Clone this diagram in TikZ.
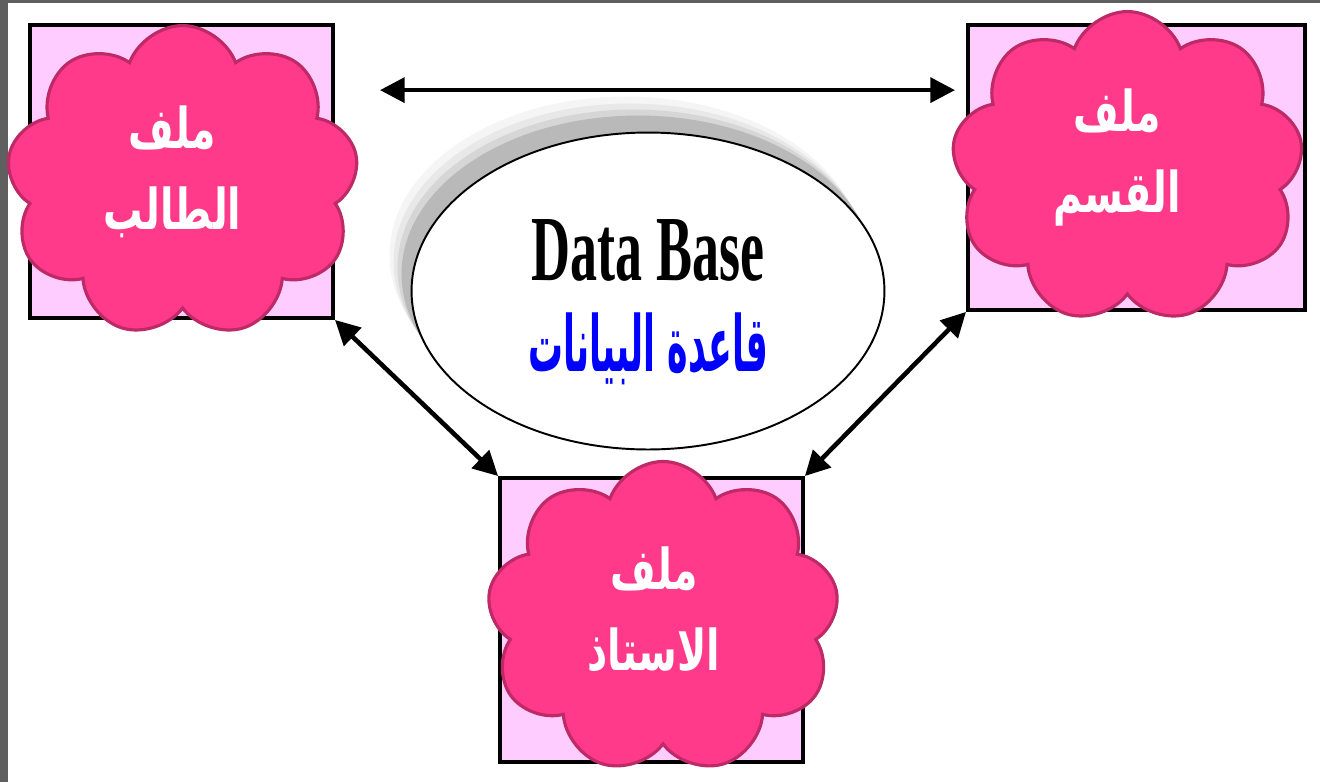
\documentclass[tikz,border=0pt]{standalone}
\usepackage{fontspec}
\setmainfont{Liberation Serif}
\newfontfamily\arabicfont[Script=Arabic,FakeStretch=0.7]{DejaVu Sans}
\newfontfamily\arabicnarrow[Script=Arabic,FakeStretch=0.45]{DejaVu Sans}
\newfontfamily\narrowserif[FakeStretch=0.58]{Liberation Serif}
\TeXXeTstate=1
\usetikzlibrary{shapes,arrows.meta,positioning,shadows}
\newcommand{\artxt}[1]{\beginR #1\endR}
\newcommand{\cloudfont}{\arabicfont\bfseries\fontsize{32}{46}\selectfont\lineskiplimit=-20cm\relax}

\definecolor{boxpink}{HTML}{FFCCFF}
\definecolor{cloudpink}{HTML}{FF3A8A}
\definecolor{cloudedge}{HTML}{BE2A66}
\definecolor{framegray}{HTML}{5F5F5F}

\begin{document}
\begin{tikzpicture}[x=0.02cm, y=-0.02cm]

\tikzset{
	filebox/.style={
		draw=black,
		fill=boxpink,
		rectangle,
		line width=2.2pt,
		minimum width=6.06cm,
		minimum height=5.86cm},
	filecloud/.style={
		draw=cloudedge,
		fill=cloudpink,
		cloud,
		cloud puffs=9,
		cloud puff arc=140,
		line width=1.8pt,
		minimum width=7.04cm,
		minimum height=6.24cm},
	filetext/.style={
		text=white,
		align=center,
		font=\cloudfont},
	dbase/.style={
		draw=black,
		fill=white,
		ellipse,
		line width=1.1pt,
		minimum width=9.46cm,
		minimum height=6.34cm,
		drop shadow={shadow xshift=-0.44cm, shadow yshift=0.72cm, fill=gray!8, opacity=1},
		drop shadow={shadow xshift=-0.36cm, shadow yshift=0.58cm, fill=gray!18, opacity=1},
		drop shadow={shadow xshift=-0.28cm, shadow yshift=0.46cm, fill=gray!32, opacity=1},
		drop shadow={shadow xshift=-0.2cm, shadow yshift=0.34cm, fill=gray!55, opacity=1}},
	link/.style={
		{Triangle[length=14pt,width=14pt]}-{Triangle[length=14pt,width=14pt]},
		line width=2.6pt}
}

\useasboundingbox (0,0) rectangle (1320,782);
\fill[framegray] (0,0) rectangle (8,782);
\fill[framegray] (0,0) rectangle (1320,3);

\node[dbase] (db) at (648,291) {};
\node[above=0.22cm of db.center,anchor=base,
      font=\narrowserif\bfseries\fontsize{53}{53}\selectfont] (dbname) {Data Base};
\node[below=1.62cm of db.center,anchor=base,text=blue,
      font=\arabicnarrow\bfseries\fontsize{44}{44}\selectfont] (dbnamear) {\artxt{قاعدة البيانات}};

\node[filebox,above left=2.39cm and 9.33cm of db.center,anchor=center] (lbox) {};
\node[filebox,above right=2.47cm and 9.77cm of db.center,anchor=center,
      minimum width=6.74cm,minimum height=5.7cm] (rbox) {};
\node[filebox,below=6.58cm of db.center,anchor=center,xshift=0.07cm,
      minimum height=5.68cm] (bbox) {};

% connectors
\draw[link] ([shift={(45,67)}]lbox.north east) -- ([shift={(-11,67)}]rbox.north west);
\draw[link] (lbox.south east) -- (bbox.north west);
\draw[link] (rbox.south west) -- (bbox.north east);

% files
\node[filecloud,xshift=0.02cm,yshift=-0.2cm] (student) at (lbox.center) {};
\node[filecloud,xshift=-0.18cm] (dept) at (rbox.center) {};
\node[filecloud,xshift=0.23cm,yshift=0.05cm] (prof) at (bbox.center) {};

\node[filetext] (studenttxt) at ([shift={(-10,-10)}]student.center) {\artxt{ملف}\\\artxt{الطالب}};
\node[filetext] (depttxt) at ([shift={(-10,-10)}]dept.center) {\artxt{ملف}\\\artxt{القسم}};
\node[filetext] (proftxt) at ([shift={(-9,-8)}]prof.center) {\artxt{ملف}\\\artxt{الاستاذ}};

\end{tikzpicture}
\end{document}
